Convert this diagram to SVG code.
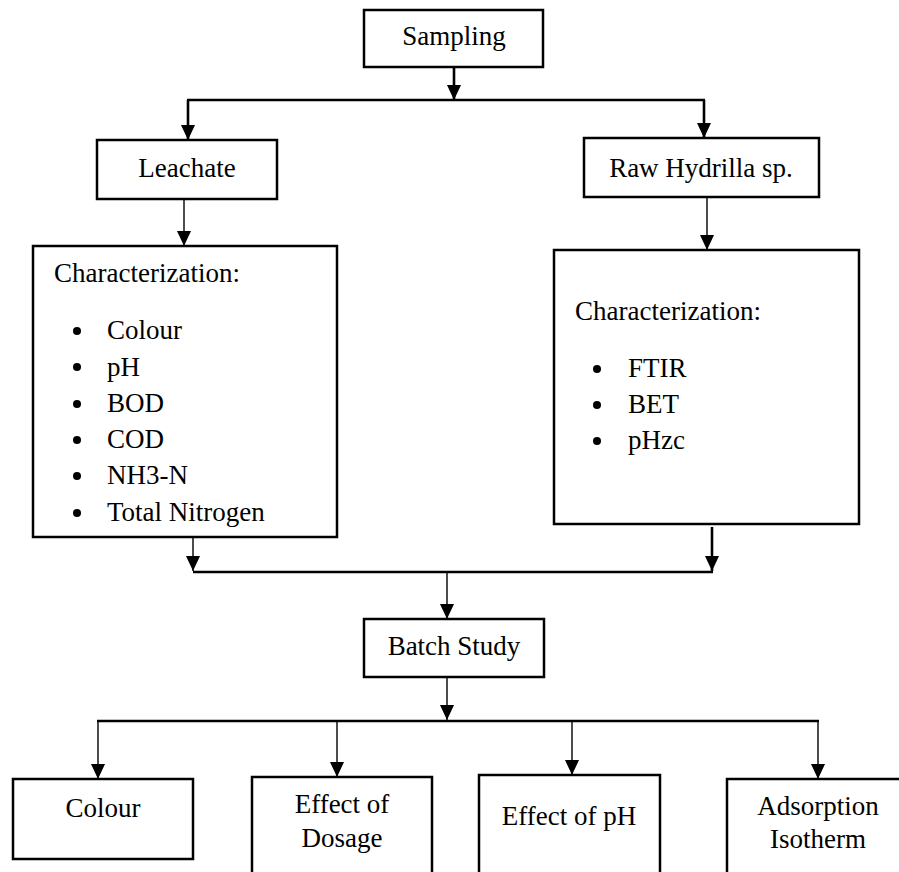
<svg xmlns="http://www.w3.org/2000/svg" width="899" height="872" viewBox="0 0 899 872">
<defs>
<marker id="ah" markerUnits="userSpaceOnUse" markerWidth="15" markerHeight="14" refX="15" refY="7" orient="auto">
<path d="M0,0 L15,7 L0,14 z" fill="#000"/>
</marker>
<style>
.box{fill:#fff;stroke:#000;stroke-width:2.5}
text{font-family:'Liberation Serif','Times New Roman',Times,serif;font-size:27px;fill:#000}
.c{text-anchor:middle}
.thin{stroke:#000;stroke-width:1.4;fill:none}
.thick{stroke:#000;stroke-width:2.6;fill:none}
.bul{fill:#000}
</style>
</defs>
<rect width="899" height="872" fill="#fff"/>
<g id="connectors">
<path class="thick" d="M454,67 V100" marker-end="url(#ah)"/>
<path class="thick" d="M187,100 H705"/>
<path class="thick" d="M188,100 V140" marker-end="url(#ah)"/>
<path class="thick" d="M704,100 V138" marker-end="url(#ah)"/>
<path class="thin" d="M184,199 V246" marker-end="url(#ah)"/>
<path class="thin" d="M707,197 V250" marker-end="url(#ah)"/>
<path class="thin" d="M193,537 V571" marker-end="url(#ah)"/>
<path class="thick" d="M712,527 V571" marker-end="url(#ah)"/>
<path class="thick" d="M193,572 H713"/>
<path class="thin" d="M447,572 V619" marker-end="url(#ah)"/>
<path class="thin" d="M447,677 V720" marker-end="url(#ah)"/>
<path class="thick" d="M97,721 H819"/>
<path class="thin" d="M98,721 V779" marker-end="url(#ah)"/>
<path class="thin" d="M337,721 V777" marker-end="url(#ah)"/>
<path class="thin" d="M572,721 V775" marker-end="url(#ah)"/>
<path class="thin" d="M818,721 V779" marker-end="url(#ah)"/>
</g>
<g id="sampling">
<rect class="box" x="364" y="10" width="179" height="57"/>
<text class="c" x="454" y="45" font-family="Liberation Serif, serif">Sampling</text>
</g>
<g id="leachate">
<rect class="box" x="97" y="140" width="180" height="59"/>
<text class="c" x="187" y="177">Leachate</text>
</g>
<g id="hydrilla">
<rect class="box" x="584" y="138" width="235" height="59"/>
<text class="c" x="701" y="177">Raw Hydrilla sp.</text>
</g>
<g id="char-leachate">
<rect class="box" x="33" y="246" width="304" height="291"/>
<text x="54" y="282">Characterization:</text>
<circle class="bul" cx="77" cy="331" r="4"/><text x="107" y="339">Colour</text>
<circle class="bul" cx="77" cy="367" r="4"/><text x="107" y="376">pH</text>
<circle class="bul" cx="77" cy="404" r="4"/><text x="107" y="412">BOD</text>
<circle class="bul" cx="77" cy="440" r="4"/><text x="107" y="448">COD</text>
<circle class="bul" cx="77" cy="476" r="4"/><text x="107" y="484">NH3-N</text>
<circle class="bul" cx="77" cy="513" r="4"/><text x="107" y="521">Total Nitrogen</text>
</g>
<g id="char-hydrilla">
<rect class="box" x="554" y="250" width="305" height="274"/>
<text x="575" y="320">Characterization:</text>
<circle class="bul" cx="597" cy="369" r="4"/><text x="628" y="377">FTIR</text>
<circle class="bul" cx="597" cy="405" r="4"/><text x="628" y="413">BET</text>
<circle class="bul" cx="597" cy="441" r="4"/><text x="628" y="449">pHzc</text>
</g>
<g id="batch">
<rect class="box" x="364" y="619" width="180" height="58"/>
<text class="c" x="454" y="655">Batch Study</text>
</g>
<g id="colour">
<rect class="box" x="13" y="779" width="180" height="80"/>
<text class="c" x="103" y="817">Colour</text>
</g>
<g id="dosage">
<rect class="box" x="252" y="777" width="180" height="110"/>
<text class="c" x="342" y="813">Effect of</text>
<text class="c" x="342" y="847">Dosage</text>
</g>
<g id="effect-ph">
<rect class="box" x="479" y="775" width="181" height="110"/>
<text class="c" x="569" y="825">Effect of pH</text>
</g>
<g id="isotherm">
<rect class="box" x="727" y="779" width="181" height="110"/>
<text class="c" x="818" y="815">Adsorption</text>
<text class="c" x="818" y="848">Isotherm</text>
</g>
</svg>
